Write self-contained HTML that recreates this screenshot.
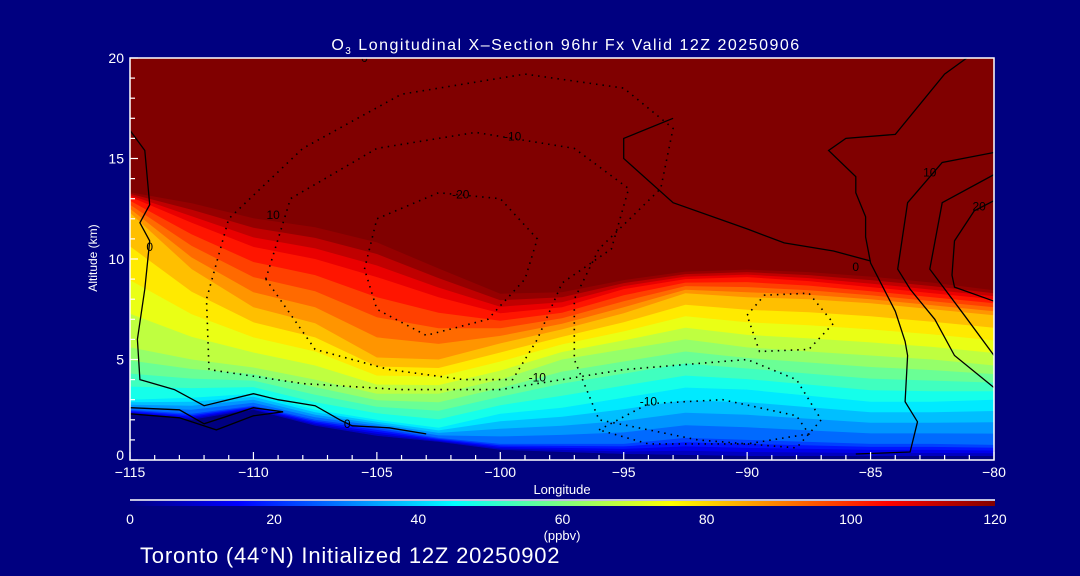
<!DOCTYPE html>
<html><head><meta charset="utf-8"><style>
html,body{margin:0;padding:0;background:#000080;}
svg{display:block;font-family:"Liberation Sans","DejaVu Sans",sans-serif;}
</style></head><body>
<svg id="chart" width="1080" height="576" viewBox="0 0 1080 576" xmlns="http://www.w3.org/2000/svg">
<rect width="1080" height="576" fill="#000080"/>
<defs>
<clipPath id="plotclip"><rect x="130" y="58" width="864" height="402"/></clipPath>
<linearGradient id="jet" x1="0" x2="1" y1="0" y2="0">
<stop offset="0" stop-color="#000080"/><stop offset="0.125" stop-color="#0000ff"/>
<stop offset="0.375" stop-color="#00ffff"/><stop offset="0.625" stop-color="#ffff00"/>
<stop offset="0.875" stop-color="#ff0000"/><stop offset="1" stop-color="#800000"/>
</linearGradient>
</defs>
<g id="field" clip-path="url(#plotclip)"></g>
<g id="contours" clip-path="url(#plotclip)"></g>
<g id="axes"></g>
<text x="566" y="50" fill="#fff" font-size="16" letter-spacing="1.5" text-anchor="middle">O<tspan font-size="10" dy="4">3</tspan><tspan dy="-4"> Longitudinal X–Section 96hr  Fx Valid 12Z 20250906</tspan></text>
<text x="97" y="258" fill="#fff" font-size="12" text-anchor="middle" transform="rotate(-90 97 258)">Altitude (km)</text>
<text x="562" y="494" fill="#fff" font-size="13" text-anchor="middle">Longitude</text>
<line x1="130" y1="500" x2="995" y2="500" stroke="#fff" stroke-width="1.5"/>
<rect x="130" y="501" width="865" height="5" fill="url(#jet)"/>
<g id="cbticks"></g>
<text x="562" y="540" fill="#fff" font-size="13" text-anchor="middle">(ppbv)</text>
<text x="140" y="563" fill="#fff" font-size="22" letter-spacing="0.8">Toronto (44°N) Initialized 12Z 20250902</text>
</svg>
<script>
// ---- data ----
const lons = [-115,-112.5,-110,-107.5,-105,-102.5,-100,-97.5,-95,-92.5,-90,-87.5,-85,-82.5,-80];
const terrain = [2.3,2.0,2.5,1.7,1.2,0.9,0.5,0.4,0.3,0.25,0.2,0.2,0.2,0.2,0.2];
const lev20  = [2.5,2.3,2.7,2.0,1.6,1.1,0.8,0.8,0.8,1.1,1.0,0.9,0.8,0.8,0.75];
const lev40  = [3.0,3.1,3.3,2.5,2.0,1.6,2.3,2.6,3.1,3.6,3.5,3.2,2.9,2.9,3.0];
const lev60  = [5.6,5.0,4.6,4.0,3.3,3.3,4.0,5.0,5.5,6.0,5.6,5.4,5.2,5.0,4.7];
const lev80  = [12.3,9.5,7.6,6.8,5.1,5.0,5.8,6.5,7.3,8.3,8.1,8.0,7.8,7.5,7.2];
const lev100 = [13.1,11.8,10.6,10.0,9.1,8.1,7.3,7.6,8.5,9.0,9.1,8.9,8.6,8.3,8.0];
const lev120 = [13.4,13.1,12.5,12.1,11.4,10.0,8.6,8.6,9.1,9.5,9.6,9.5,9.3,9.0,8.6];
const cbLabels = [0,20,40,60,80,100,120];
const xTicks = [-115,-110,-105,-100,-95,-90,-85,-80];
const yTicks = [0,5,10,15,20];
const dotted0 = [[-111.8,4.5],[-111.9,8],[-111,12],[-108,15.5],[-104,18.2],[-99,19.2],[-95,18.5],[-93,16.5],[-93.5,13.5],[-96,10.5],[-97,8],[-97,5],[-96,2],[-92,1],[-88,0.6],[-87,2],[-88,4],[-90,5],[-95,4.5],[-100,3.5],[-104,3.5],[-108,3.8],[-111.8,4.5]];
const dottedM10 = [[-109.5,9],[-108.5,13],[-105,15.5],[-101,16.3],[-97,15.5],[-94.8,13.5],[-95.5,10.5],[-97.5,8.8],[-98.5,6],[-99.5,4],[-101.5,4],[-104.5,4.5],[-107.5,5.5],[-109.5,9]];
const dottedM20 = [[-105.5,9.5],[-105,12],[-102.5,13.3],[-100,13],[-98.5,11],[-99,9],[-100.5,7],[-103,6.2],[-105,7.5],[-105.5,9.5]];
const dottedM10b = [[-90,7.2],[-89.3,8.2],[-87.5,8.3],[-86.5,6.8],[-87.5,5.5],[-89.5,5.4],[-90,7.2]];
const dottedM10c = [[-96,1.5],[-94,2.8],[-91,3],[-88,2.2],[-87.5,1.3],[-90,0.8],[-94,0.8],[-96,1.5]];
const solid0L = [[-115,16.4],[-114.4,15.4],[-114.2,12.7],[-114.6,11.8],[-114.2,10.9],[-114.4,8.5],[-114.7,6],[-114.6,4],[-113.2,3.5],[-112,2.7],[-110,3.3],[-109,3],[-107.5,2.7],[-106.5,2],[-106,1.7],[-104.5,1.6],[-103,1.3]];
const solidLow = [[-115,2.6],[-113,2.5],[-112,1.8],[-110,2.6],[-108.8,2.4],[-110,2.2],[-111.5,1.5],[-113,2.1],[-115,2.3]];
const solid0R = [[-81.1,20],[-82,19.2],[-84,16.2],[-86,16],[-86.7,15.4],[-85.6,14.1],[-85.6,13.3],[-85.2,12.1],[-85.2,11.1],[-85,9.8],[-84,7.4],[-83.6,5.9],[-83.5,5.2],[-83.6,2.9],[-83.1,1.9],[-83.4,0.4],[-85.6,0.3]];
const solid0Rb = [[-85,9.9],[-86.5,10.4],[-88.5,10.8],[-90,11.5],[-93,12.8],[-95,15],[-95,16],[-93,17]];
const solid10 = [[-80,15.3],[-82.1,14.8],[-83.5,12.8],[-83.9,9.5],[-83.4,8.5],[-82.4,7],[-81.6,5.2],[-80,3.6]];
const solid20 = [[-80,14.2],[-82.1,12.8],[-82.6,9.5],[-81.2,7.2],[-80,5.2]];
const solid30 = [[-80,7.9],[-81.6,8.6],[-81.7,9.2],[-81.6,10.9],[-80.8,12.4],[-80,12.9]];
const contourLabels = [["-10",-99.5,16.1],["-20",-101.6,13.2],["-10",-98.5,4.1],["-10",-94,2.9],["0",-114.2,10.6],["0",-106.2,1.8],["0",-85.6,9.6],["10",-82.6,14.3],["20",-80.6,12.6],["10",-109.2,12.2],["0",-105.5,20]];

// ---- axes functions ----
const X0=130,X1=994,Y0=460,Y1=58;
const xs = lon => X0+(lon+115)/35*(X1-X0);
const ys = alt => Y0-alt/20*(Y0-Y1);
const NS="http://www.w3.org/2000/svg";
function jet(v){
  const t=Math.max(0,Math.min(1,v/120));
  const stops=[[0,[0,0,128]],[0.125,[0,0,255]],[0.375,[0,255,255]],[0.625,[255,255,0]],[0.875,[255,0,0]],[1,[128,0,0]]];
  for(let i=0;i<stops.length-1;i++){const a=stops[i],b=stops[i+1];
    if(t<=b[0]){const f=(t-a[0])/(b[0]-a[0]);const c=a[1].map((x,k)=>Math.round(x+(b[1][k]-x)*f));return `rgb(${c[0]},${c[1]},${c[2]})`;}}
  return "rgb(128,0,0)";
}
const field=document.getElementById('field');
const topRect=document.createElementNS(NS,'rect');
topRect.setAttribute('x',X0);topRect.setAttribute('y',Y1);topRect.setAttribute('width',X1-X0);topRect.setAttribute('height',Y0-Y1);topRect.setAttribute('fill','rgb(128,0,0)');


field.appendChild(topRect);
const keys=[[0,terrain],[20,lev20],[40,lev40],[60,lev60],[80,lev80],[100,lev100],[120,lev120]];
function levelAlt(v,i){
  for(let k=0;k<keys.length-1;k++){const a=keys[k],b=keys[k+1];
    if(v<=b[0]){const f=(v-a[0])/(b[0]-a[0]);return a[1][i]+(b[1][i]-a[1][i])*f;}}
  return lev120[i];
}
for(let v=115;v>=0;v-=5){
  const pts=lons.map((lon,i)=>xs(lon).toFixed(1)+','+ys(levelAlt(v,i)).toFixed(1));
  pts.push(X1+','+Y0, X0+','+Y0);
  const p=document.createElementNS(NS,'polygon');
  p.setAttribute('points',pts.join(' '));
  p.setAttribute('fill',jet(v+2.5));
  
  
  field.appendChild(p);
}
{
  const pts=lons.map((lon,i)=>xs(lon).toFixed(1)+','+ys(terrain[i]).toFixed(1));
  pts.push(X1+','+Y0, X0+','+Y0);
  const p=document.createElementNS(NS,'polygon');
  p.setAttribute('points',pts.join(' '));p.setAttribute('fill','#000080');
  
  
  field.appendChild(p);
}
const cg=document.getElementById('contours');
function line(arr,dotted){
  const p=document.createElementNS(NS,'polyline');
  p.setAttribute('points',arr.map(d=>xs(d[0]).toFixed(1)+','+ys(d[1]).toFixed(1)).join(' '));
  p.setAttribute('fill','none');p.setAttribute('stroke','#000');
  p.setAttribute('stroke-width',dotted?1.6:1.3);
  if(dotted){p.setAttribute('stroke-dasharray','1.5 5');}
  
  
  cg.appendChild(p);
}
[dotted0,dottedM10,dottedM20,dottedM10b,dottedM10c].forEach(a=>line(a,true));
[solid0L,solidLow,solid0R,solid0Rb,solid10,solid20,solid30].forEach(a=>line(a,false));
contourLabels.forEach(l=>{
  const t=document.createElementNS(NS,'text');
  t.setAttribute('x',xs(l[1]));t.setAttribute('y',ys(l[2])+4);
  t.setAttribute('font-size','12');t.setAttribute('fill','#000');t.setAttribute('text-anchor','middle');
  t.textContent=l[0];
  
  
  cg.appendChild(t);
});
const ax=document.getElementById('axes');
function el(tag,attrs,txt){const e=document.createElementNS(NS,tag);for(const k in attrs)e.setAttribute(k,attrs[k]);if(txt!==undefined)e.textContent=txt;ax.appendChild(e);return e;}
const frame=el('rect',{x:X0,y:Y1,width:X1-X0,height:Y0-Y1,fill:'none',stroke:'#fff','stroke-width':1.5});


for(let lon=-115;lon<=-80;lon++){
  const major=lon%5===0;
  const t=el('line',{x1:xs(lon),x2:xs(lon),y1:Y0,y2:Y0-(major?8:5),stroke:'#fff','stroke-width':1.2});
  
  
}
xTicks.forEach(lon=>{
  const t=el('text',{x:xs(lon),y:477,fill:'#fff','font-size':14,'text-anchor':'middle'},String(lon).replace('-','−'));
  
  
});
for(let a=0;a<=20;a++){
  const major=a%5===0;
  const t=el('line',{x1:X0,x2:X0+(major?8:5),y1:ys(a),y2:ys(a),stroke:'#fff','stroke-width':1.2});
  
  
}
yTicks.forEach(a=>{
  const t=el('text',{x:124,y:ys(a)+(a===0?0:5),fill:'#fff','font-size':14,'text-anchor':'end'},String(a));
  
  
});
const cb=document.getElementById('cbticks');
cbLabels.forEach(v=>{
  const t=document.createElementNS(NS,'text');
  t.setAttribute('x',130+v/120*865);t.setAttribute('y',524);t.setAttribute('fill','#fff');
  t.setAttribute('font-size','14');t.setAttribute('text-anchor','middle');t.textContent=v;
  
  
  cb.appendChild(t);
});
</script>
</body></html>
